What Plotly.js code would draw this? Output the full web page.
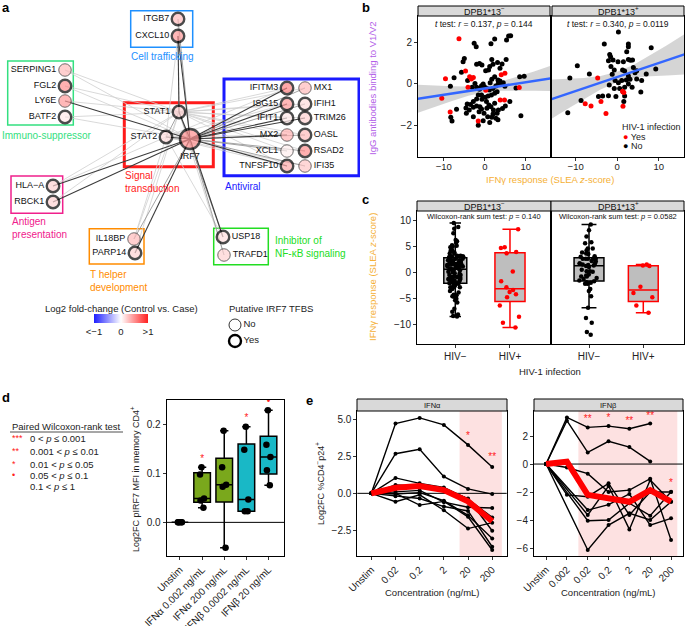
<!DOCTYPE html>
<html>
<head>
<meta charset="utf-8">
<script src="https://cdn.plot.ly/plotly-3.0.1.min.js"></script>
<style>body{margin:0;background:#fff}#fig{width:685px;height:626px}</style>
</head>
<body>
<div id="fig"></div>
<script>
// ---------- panel a : IRF7 network ----------
var netNames = ['ITGB7','CXCL10','SERPING1','FGL2','LY6E','BATF2','STAT1','STAT2','IRF7',
  'IFITM3','ISG15','IFIT1','MX2','XCL1','TNFSF10','MX1','IFIH1','TRIM26','OASL','RSAD2','IFI35',
  'HLA−A','RBCK1','IL18BP','PARP14','USP18','TRAFD1'];
var netX = [178,178,65,65,65,65,179,166,190, 287,287,287,287,287,287,305,305,305,305,305,305, 53,53,134,135,223,224];
var netY = [19,36,70,86,101,117,112,137,139, 88,104,118,135,151,166,88,104,118,135,151,166, 186,202,239,253,237,255];
var netLFC = [0.3,0.45,0.3,0.5,0.45,0.1,0.2,0.15,0.5, 0.55,0.45,0.1,0.35,0.07,0.38,0.3,0.15,0.2,0.3,0.5,0.25, 0.2,0.2,0.3,0.2,0.15,0.2];
var netTFBS = [1,1,0,1,0,1,1,1,1, 1,1,1,0,0,1,0,1,1,1,1,0, 1,1,0,1,1,0];
var netLabelPos = ['middle left','middle left','middle left','middle left','middle left','middle left','middle left','middle left','bottom center',
  'middle left','middle left','middle left','middle left','middle left','middle left','middle right','middle right','middle right','middle right','middle right','middle right',
  'middle left','middle left','middle left','middle left','middle right','middle right'];
// [gene, hub, strength 0 light / 1 mid / 2 dark]
var netEdges = [
  ['ITGB7','IRF7',1],['ITGB7','STAT1',0],
  ['CXCL10','IRF7',2],['CXCL10','STAT1',2],['CXCL10','STAT2',0],
  ['SERPING1','STAT1',0],['SERPING1','IRF7',0],
  ['FGL2','STAT1',0],['FGL2','IRF7',0],
  ['LY6E','IRF7',2],['LY6E','STAT1',0],
  ['BATF2','STAT1',0],['BATF2','IRF7',0],
  ['HLA−A','STAT1',0],['HLA−A','STAT2',0],['HLA−A','IRF7',2],
  ['RBCK1','IRF7',2],['RBCK1','STAT1',0],
  ['IL18BP','STAT1',0],['IL18BP','STAT2',0],['IL18BP','IRF7',1],
  ['PARP14','IRF7',2],['PARP14','STAT1',0],
  ['USP18','IRF7',2],['USP18','STAT1',1],['USP18','STAT2',0],
  ['TRAFD1','IRF7',1],['TRAFD1','STAT1',0],
  ['IFITM3','IRF7',2],['IFITM3','STAT1',0],['IFITM3','STAT2',0],
  ['ISG15','IRF7',2],['ISG15','STAT1',0],['ISG15','STAT2',0],
  ['IFIT1','IRF7',2],['IFIT1','STAT1',0],
  ['MX2','IRF7',2],['MX2','STAT1',0],['MX2','STAT2',0],
  ['XCL1','IRF7',1],['XCL1','STAT1',0],
  ['TNFSF10','IRF7',2],['TNFSF10','STAT1',0],['TNFSF10','STAT2',0],
  ['MX1','IRF7',1],['MX1','STAT1',0],
  ['IFIH1','IRF7',1],['IFIH1','STAT1',0],
  ['TRIM26','IRF7',2],['TRIM26','STAT1',0],
  ['OASL','IRF7',1],['OASL','STAT1',0],
  ['RSAD2','IRF7',1],['RSAD2','STAT1',0],
  ['IFI35','IRF7',1],['IFI35','STAT2',0],
  ['STAT1','IRF7',2],['STAT2','IRF7',2],['STAT1','STAT2',1]
];
var tfbsLegend = ['No','Yes'];

// ---------- panel b : IgG V1/V2 vs IFNg response ----------
var bLeftNoX = [5.8,6.3,5.3,2.4,1.5,-2.6,-2.1,-5.0,-5.3,-2.0,-1.3,-0.7,1.7,2.0,3.1,5.2,4.2,3.7,1.2,0.9,0.2,-5.7,-7.5,-8.4,-4.2,-2.4,-1.5,-0.8,-0.4,1.3,1.7,2.4,3.2,3.7,3.9,2.7,2.0,1.1,0.5,-0.1,-1.0,-1.3,-2.0,-3.1,3.3,4.5,4.9,3.0,2.4,1.6,0.8,0.1,-0.7,-2.0,-2.8,-3.5,-4.3,-4.6,-3.8,-2.8,-2.0,-1.2,-0.8,-1.4,-0.2,0.5,1.0,1.5,2.1,2.0,1.7,0.7,3.3,3.0,2.7,3.2,4.3,1.2,-0.4,-1.6,-2.8,-4.5,-6.9,-8.3,-8.0,7.6,9.6,8.8,5.0,6.1,2.4,0.4,-0.8,-1.6,8.5];
var bLeftNoY = [2.29,2.30,2.10,2.14,1.92,1.94,1.78,1.21,1.06,0.94,0.98,0.90,1.17,0.94,1.02,1.17,0.95,0.75,0.83,0.67,0.63,0.56,0.30,-0.11,0.17,0.02,-0.22,-0.08,0.0,0.06,0.22,0.35,0.19,0.14,0.02,-0.10,-0.21,-0.29,-0.22,-0.13,-0.19,-0.25,-0.16,-0.16,0.02,0.06,-0.11,-0.37,-0.44,-0.52,-0.57,-0.63,-0.73,-0.71,-0.84,-0.98,-0.95,-1.14,-1.24,-1.11,-1.05,-1.08,-1.19,-1.32,-1.40,-1.16,-1.0,-1.08,-1.24,-1.43,-1.59,-1.56,-1.24,-1.40,-1.63,-1.71,-1.17,-1.84,-1.75,-1.97,-1.56,-1.40,-1.21,-1.59,-1.76,-0.19,0.37,-1.52,-1.05,-0.84,-0.92,-0.84,-0.52,-0.52,0.35];
var bLeftYesX = [-6.3,-9.6,-10.5,-8.45,-1.6,-4.7,-3.7,-3.3,-2.8,-4.1,0.24,4.0,4.9,3.75,4.8,8.4];
var bLeftYesY = [2.16,0.25,-0.68,-1.33,-1.76,0.62,0.35,0.24,0.31,-0.16,-0.30,0.44,0.51,-0.76,-0.76,-0.17];
var bRightNoX = [0.3,-3.1,2.7,2.7,2.3,8.2,-1.8,-1.6,-1.0,-2.1,2.7,3.2,3.7,1.5,0.2,1.3,3.9,4.7,-1.5,-0.7,-9.6,-6.7,-11.4,-1.2,1.8,2.7,4.3,7.0,9.3,5.9,-0.5,1.1,2.2,0.3,-1.9,-0.7,2.7,1.8,1.4,3.6,4.7,5.7,1.8,-0.3,1.6,-2.1,-4.5,-8.7,-11.9,-3.5,3.1,0.6];
var bRightNoY = [2.48,1.90,1.90,1.78,1.54,1.73,1.41,1.30,1.14,1.11,1.17,1.13,1.14,1.06,1.06,0.67,0.79,0.63,0.83,0.67,0.87,0.48,0.29,0.46,0.62,0.38,0.54,0.48,0.71,0.16,0.16,0.16,0.19,0.06,-0.05,-0.21,0.0,-0.16,-0.37,-0.16,0.24,-0.38,-0.57,-0.60,-0.84,-0.56,-0.60,-0.79,-1.37,-0.57,0.22,-0.21];
var bRightYesX = [-4.7,-7.7,-6.3,-3.9,-2.7,1.4,1.3,1.6];
var bRightYesY = [0.29,-0.94,-1.05,-0.84,-1.41,-1.06,-0.35,-0.41];
// linear fits and 95% band half-widths
var fitX = [-16.5,-12,-8,-4,0,4,8,12,16.5];
var fitLeft = [-0.71,-0.58,-0.46,-0.34,-0.22,-0.10,0.02,0.14,0.28];
var halfLeft = [0.68,0.5,0.35,0.22,0.17,0.22,0.33,0.46,0.62];
var fitRight = [-0.77,-0.47,-0.21,0.06,0.33,0.60,0.87,1.13,1.43];
var halfRight = [0.98,0.72,0.5,0.32,0.25,0.32,0.5,0.72,0.98];

// ---------- panel d : pIRF7 ----------
var dCats = ['Unstim','IFNα 0.002 ng/mL','IFNα 200 ng/mL','IFNβ 0.0002 ng/mL','IFNβ 20 ng/mL'];
var dUnstim = [0,0,0,0,0];
var dA002 = [0.030,0.045,0.049,0.098,0.113];
var dA200 = [-0.052,0.073,0.077,0.113,0.188];
var dB00002 = [0.023,0.023,0.047,0.149,0.196];
var dB20 = [0.076,0.107,0.134,0.159,0.230];
var dSig = ['','*','','*','•'];
var dSigY = [null,0.128,null,0.214,0.247];

// ---------- panel e : p24 ----------
var eCatsA = ['Unstim','0.02','0.2','2','20','200'];
var eCatsB = ['Unstim','0.002','0.02','0.2','2','20','200'];
var eLinesA = [
  [0,4.75,5.14,4.66,3.30,1.80],
  [0,2.70,3.00,1.14,0.30,-0.05],
  [0,1.05,0.68,0.40,-0.40,-1.64],
  [0,0.57,0.50,0.30,-0.35,-2.55],
  [0,0.10,0.20,-0.60,-0.95,-1.00],
  [0,-0.05,0.05,-0.50,-1.50,-3.07],
  [0,-0.20,-0.35,-0.90,-1.20,-3.64],
  [0,-0.57,-0.10,-1.15,-2.40,-2.00],
  [0,0.00,-0.80,-0.55,-1.60,-3.86]
];
var eMeanA = [0,0.38,0.50,0.22,-0.55,-1.90];
var eLinesB = [
  [0,3.33,2.62,2.71,2.52,2.90,null],
  [0,3.10,0.83,1.62,1.21,0.19,null],
  [0,-0.25,-0.69,-2.00,-1.86,-1.05,-5.43],
  [0,-2.20,-2.33,-1.38,-3.64,-2.00,-2.00],
  [0,null,-3.29,-2.90,-2.14,-4.36,-3.88],
  [0,null,-3.64,-1.57,-4.67,-1.14,-2.69],
  [0,null,-4.05,-4.00,-2.80,-3.69,-1.98],
  [0,null,-6.14,-4.36,-3.52,-4.00,-2.69]
];
var eMeanB = [0,0.17,-2.20,-2.50,-2.70,-1.86,-2.69];
var eSigAx = [4,5], eSigAy = [3.9,2.45], eSigAt = ['*','**'];
var eSigBx = [2,3,4,5,6], eSigBy = [3.2,3.25,3.05,3.4,-1.4], eSigBt = ['**','*','**','**','*'];
var eShadeA = [3.65,5.4], eShadeB = [1.55,6.3];

// ================= drawing =================
var F = 'Liberation Sans, Arial, sans-serif';
function px(x){ return x/685; }
function py(y){ return 1 - y/626; }

function ax(dom, range, anchor, extra){
  return Object.assign({domain:dom, range:range, anchor:anchor, showline:true, mirror:true,
    linecolor:'#000', linewidth:1, ticks:'outside', ticklen:3, tickcolor:'#333',
    tickfont:{family:F, size:10, color:'#222'}, showgrid:false, zeroline:false, fixedrange:true}, extra || {});
}

var traces = [];

// network edges
var edgeCol = ['#cfcfcf','#9a9a9a','#3c3c3c'];
var edgeW = [0.8,0.9,1.1];
[0,1,2].forEach(function(k){
  var ex = [], ey = [];
  netEdges.forEach(function(e){
    if (e[2] !== k) return;
    var a = netNames.indexOf(e[0]), b = netNames.indexOf(e[1]);
    ex.push(netX[a], netX[b], null);
    ey.push(netY[a], netY[b], null);
  });
  traces.push({type:'scatter', mode:'lines', x:ex, y:ey, xaxis:'x8', yaxis:'y8',
    line:{color:edgeCol[k], width:edgeW[k]}, hoverinfo:'skip'});
});

// network nodes
traces.push({type:'scatter', mode:'markers+text', x:netX, y:netY, xaxis:'x8', yaxis:'y8',
  text:netNames, textposition:netLabelPos, textfont:{family:F, size:9, color:'#111'},
  marker:{size:netNames.map(function(n){ return n === 'IRF7' ? 20 : 12.5; }),
    color:netLFC, cmin:-1, cmax:1,
    colorscale:[[0,'#1f1fff'],[0.5,'#ffffff'],[1,'#ff2020']],
    line:{color:'#000', width:netTFBS.map(function(t){ return t ? 2.4 : 0.8; })},
    showscale:true,
    colorbar:{orientation:'h', x:px(121), xanchor:'center', y:py(323.5), yanchor:'middle',
      len:54, lenmode:'pixels', thickness:9, thicknessmode:'pixels', xpad:0, ypad:0,
      outlinewidth:0, tickvals:[-1,0,1], ticktext:['<−1','0','>1'], ticks:'',
      tickfont:{family:F, size:9.5, color:'#222'}}},
  cliponaxis:false, hoverinfo:'skip'});

// TFBS legend keys
traces.push({type:'scatter', mode:'markers+text', x:[235,235], y:[325,341], xaxis:'x8', yaxis:'y8',
  text:tfbsLegend, textposition:'middle right', textfont:{family:F, size:9.5, color:'#222'},
  marker:{size:12, color:'#fff', line:{color:'#000', width:[0.8,2.4]}}, cliponaxis:false, hoverinfo:'skip'});

// panel b
function bandTrace(fit, half, xa, ya){
  var up = fit.map(function(v,i){ return v + half[i]; });
  var lo = fit.map(function(v,i){ return v - half[i]; });
  return {type:'scatter', mode:'lines', x:fitX.concat(fitX.slice().reverse()),
    y:up.concat(lo.reverse()), fill:'toself', fillcolor:'rgba(185,185,185,0.6)',
    line:{width:0}, xaxis:xa, yaxis:ya, hoverinfo:'skip'};
}
traces.push(bandTrace(fitLeft, halfLeft, 'x', 'y'));
traces.push(bandTrace(fitRight, halfRight, 'x2', 'y2'));
function pts(x, y, col, xa, ya){
  return {type:'scatter', mode:'markers', x:x, y:y, xaxis:xa, yaxis:ya,
    marker:{size:5, color:col}, hoverinfo:'skip'};
}
traces.push(pts(bLeftNoX, bLeftNoY, '#000', 'x', 'y'));
traces.push(pts(bLeftYesX, bLeftYesY, '#ff0000', 'x', 'y'));
traces.push(pts(bRightNoX, bRightNoY, '#000', 'x2', 'y2'));
traces.push(pts(bRightYesX, bRightYesY, '#ff0000', 'x2', 'y2'));
traces.push({type:'scatter', mode:'lines', x:fitX, y:fitLeft, xaxis:'x', yaxis:'y', line:{color:'#3366ff', width:2.5}});
traces.push({type:'scatter', mode:'lines', x:fitX, y:fitRight, xaxis:'x2', yaxis:'y2', line:{color:'#3366ff', width:2.5}});

// panel c: same IFNg scores, split by HIV status
function boxC(vals, pos, col, w, xa, ya){
  return {type:'box', y:vals, x0:pos, width:w, xaxis:xa, yaxis:ya,
    fillcolor:'#bebebe', line:{color:col, width:1.5},
    boxpoints:'all', jitter:0.8, pointpos:0, marker:{color:col, size:4.5}, hoverinfo:'skip'};
}
traces.push(boxC(bLeftNoX, 1, '#000', 0.42, 'x3', 'y3'));
traces.push(boxC(bLeftYesX, 2, '#ff0000', 0.55, 'x3', 'y3'));
traces.push(boxC(bRightNoX, 1, '#000', 0.55, 'x4', 'y4'));
traces.push(boxC(bRightYesX, 2, '#ff0000', 0.55, 'x4', 'y4'));

// panel d
var dVals = [dUnstim, dA002, dA200, dB00002, dB20];
var dFill = ['#ffffff','#7aa81c','#7aa81c','#19b8c6','#19b8c6'];
dVals.forEach(function(v,i){
  traces.push({type:'box', y:v, x0:i, width:0.75, xaxis:'x5', yaxis:'y5',
    fillcolor:dFill[i], line:{color:'#000', width:1.5},
    boxpoints:'all', jitter:i === 0 ? 1.2 : 0.3, pointpos:0, marker:{color:'#000', size:6.5}, hoverinfo:'skip'});
});
traces.push({type:'scatter', mode:'text', x:[0,1,2,3,4], y:dSigY, text:dSig, xaxis:'x5', yaxis:'y5',
  textfont:{family:F, size:10, color:'#ff2020'}, hoverinfo:'skip'});

// panel e
function eLines(lines, mean, xa, ya){
  lines.forEach(function(l){
    traces.push({type:'scatter', mode:'lines+markers', x:l.map(function(v,i){ return i; }), y:l,
      connectgaps:true, xaxis:xa, yaxis:ya, line:{color:'#000', width:1.4},
      marker:{color:'#000', size:4}, hoverinfo:'skip'});
  });
  traces.push({type:'scatter', mode:'lines', x:mean.map(function(v,i){ return i; }), y:mean,
    xaxis:xa, yaxis:ya, line:{color:'#ff0000', width:6}, hoverinfo:'skip'});
}
eLines(eLinesA, eMeanA, 'x6', 'y6');
eLines(eLinesB, eMeanB, 'x7', 'y7');
traces.push({type:'scatter', mode:'text', x:eSigAx, y:eSigAy, text:eSigAt, xaxis:'x6', yaxis:'y6',
  textfont:{family:F, size:10, color:'#ff2020'}, hoverinfo:'skip'});
traces.push({type:'scatter', mode:'text', x:eSigBx, y:eSigBy, text:eSigBt, xaxis:'x7', yaxis:'y7',
  textfont:{family:F, size:10, color:'#ff2020'}, hoverinfo:'skip'});

// ---------- annotations ----------
var anns = [];
function ann(text, x, y, o){
  anns.push(Object.assign({text:text, x:px(x), y:py(y), xref:'paper', yref:'paper', showarrow:false,
    xanchor:'center', yanchor:'middle', font:{family:F, size:9.5, color:'#222'}}, o || {}));
}
function nann(text, x, y, col, o){
  anns.push(Object.assign({text:text, x:x, y:y, xref:'x8', yref:'y8', showarrow:false,
    xanchor:'left', yanchor:'middle', align:'left', font:{family:F, size:10, color:col}}, o || {}));
}
// panel letters
[['a',6,8],['b',366,8],['c',366,200],['d',6,397],['e',309,400]].forEach(function(p){
  ann('<b>' + p[0] + '</b>', p[1], p[2], {font:{family:F, size:13, color:'#000'}});
});

// network group labels
nann('Cell trafficking', 162, 56, '#1e90ff', {xanchor:'center'});
nann('Immuno-suppressor', 0, 135, '#33e080');
nann('Signal<br>transduction', 123, 182, '#ff1a1a');
nann('Antiviral', 223, 186, '#1a1aff');
nann('Antigen<br>presentation', 10, 228, '#f0208c');
nann('T helper<br>development', 88, 281, '#ff8c00');
nann('Inhibitor of<br>NF-κB signaling', 273, 247, '#22dd22');
ann('Log2 fold-change (Control vs. Case)', 121, 309);
ann('Putative IRF7 TFBS', 271, 309);

// panel b text
ann('DPB1*13<sup>−</sup>', 484, 11, {font:{family:F, size:9, color:'#111'}});
ann('DPB1*13<sup>+</sup>', 618, 11, {font:{family:F, size:9, color:'#111'}});
ann('<i>t</i> test: <i>r</i> = 0.137, <i>p</i> = 0.144', 484, 24, {font:{family:F, size:8.5, color:'#111'}});
ann('<i>t</i> test: <i>r</i> = 0.340, <i>p</i> = 0.0119', 618, 24, {font:{family:F, size:8.5, color:'#111'}});
ann('HIV-1 infection', 620, 127, {xanchor:'left', font:{family:F, size:9, color:'#222'}});
ann('<span style="color:#ff0000">●</span> Yes', 621, 137, {xanchor:'left', font:{family:F, size:9, color:'#222'}});
ann('<span style="color:#000">●</span> No', 621, 146, {xanchor:'left', font:{family:F, size:9, color:'#222'}});
ann('IgG antibodies binding to V1/V2', 372, 88, {textangle:-90, font:{family:F, size:9.5, color:'#b25ee8'}});
ann('IFNγ response (SLEA <i>z</i>-score)', 550, 180, {font:{family:F, size:9.5, color:'#f5b036'}});

// panel c text
ann('DPB1*13<sup>−</sup>', 484, 205.5, {font:{family:F, size:9, color:'#111'}});
ann('DPB1*13<sup>+</sup>', 618, 205.5, {font:{family:F, size:9, color:'#111'}});
ann('Wilcoxon-rank sum test: <i>p</i> = 0.140', 484, 216, {font:{family:F, size:7.5, color:'#111'}});
ann('Wilcoxon-rank sum test: <i>p</i> = 0.0582', 618, 216, {font:{family:F, size:7.5, color:'#111'}});
ann('IFNγ response (SLEA <i>z</i>-score)', 373, 277, {textangle:-90, font:{family:F, size:9.5, color:'#f5b036'}});
ann('HIV-1 infection', 550, 372, {font:{family:F, size:9.5, color:'#222'}});

// panel d text
ann('Paired Wilcoxon-rank test', 10, 426, {xanchor:'left'});
var sigStars = ['***','**','*','•',''];
var sigText = ['0 < <i>p</i> ≤ 0.001','0.001 < <i>p</i> ≤ 0.01','0.01 < <i>p</i> ≤ 0.05','0.05 < <i>p</i> ≤ 0.1','0.1 < <i>p</i> ≤ 1'];
var sigRowY = [438,451,464,475,486];
sigStars.forEach(function(s,i){
  if (s) ann(s, 10, sigRowY[i], {xanchor:'left', font:{family:F, size:9, color:'#ff2020'}});
  ann(sigText[i], 28, sigRowY[i], {xanchor:'left'});
});
ann('Log2FC pIRF7 MFI in memory CD4<sup>+</sup>', 135, 479, {textangle:-90, font:{family:F, size:9, color:'#222'}});

// panel e text
ann('IFNα', 432, 405, {font:{family:F, size:7.5, color:'#111'}});
ann('IFNβ', 608, 405, {font:{family:F, size:7.5, color:'#111'}});
ann('Log2FC %CD4<sup>−</sup>p24<sup>+</sup>', 320, 484, {textangle:-90, font:{family:F, size:9, color:'#222'}});
ann('Concentration (ng/mL)', 432, 592, {font:{family:F, size:9.5, color:'#222'}});
ann('Concentration (ng/mL)', 608, 592, {font:{family:F, size:9.5, color:'#222'}});

// ---------- shapes ----------
var shapes = [];
function strip(x0, x1, y0, y1){
  shapes.push({type:'rect', xref:'paper', yref:'paper', x0:px(x0), x1:px(x1), y0:py(y1), y1:py(y0),
    fillcolor:'#d9d9d9', line:{color:'#000', width:1}});
}
strip(418,550,6,16); strip(552,684,6,16);
strip(417,551,201,211); strip(551,684,201,211);
strip(357,507,399,411); strip(534,683,399,411);
// network group boxes
function gbox(x0, x1, y0, y1, col, w){
  shapes.push({type:'rect', xref:'x8', yref:'y8', x0:x0, x1:x1, y0:y0, y1:y1,
    line:{color:col, width:w}, fillcolor:'rgba(0,0,0,0)', layer:'below'});
}
gbox(130.7,192.7,10.7,47.3,'#1e90ff',1.5);
gbox(7.7,73.3,61,125,'#33e080',1.5);
gbox(124.3,213.3,102.7,166.7,'#ff1a1a',3);
gbox(224,359,79,175.7,'#1a1aff',3);
gbox(11,62.7,176,213.3,'#f0208c',1.5);
gbox(89.3,144,228.7,264,'#ff8c00',1.5);
gbox(213.7,268.3,228.3,264.7,'#22dd22',1.5);
// underline for legend title
shapes.push({type:'line', xref:'paper', yref:'paper', x0:px(10), x1:px(123), y0:py(432), y1:py(432), line:{color:'#222', width:0.8}});
// zero lines and shaded windows
shapes.push({type:'line', xref:'x5 domain', yref:'y5', x0:0, x1:1, y0:0, y1:0, line:{color:'#000', width:1}, layer:'below'});
shapes.push({type:'rect', xref:'x6', yref:'y6 domain', x0:eShadeA[0], x1:eShadeA[1], y0:0, y1:1, fillcolor:'#fde1e1', line:{width:0}, layer:'below'});
shapes.push({type:'rect', xref:'x7', yref:'y7 domain', x0:eShadeB[0], x1:eShadeB[1], y0:0, y1:1, fillcolor:'#fde1e1', line:{width:0}, layer:'below'});
shapes.push({type:'line', xref:'x6 domain', yref:'y6', x0:0, x1:1, y0:0, y1:0, line:{color:'#000', width:1}, layer:'below'});
shapes.push({type:'line', xref:'x7 domain', yref:'y7', x0:0, x1:1, y0:0, y1:0, line:{color:'#000', width:1}, layer:'below'});

var noY = {showticklabels:false, ticks:''};
var bX = {tickvals:[-10,0,10], ticklabelstandoff:-2, tickfont:{family:F, size:9.5, color:'#222'}};
var layout = {
  width:685, height:626, margin:{l:0, r:0, t:0, b:0}, paper_bgcolor:'#fff', plot_bgcolor:'rgba(0,0,0,0)',
  showlegend:false, font:{family:F, color:'#222'}, boxmode:'overlay',
  xaxis: ax([px(418),px(550)], [-16.3,15.9], 'y', bX),
  yaxis: ax([py(157),py(16)], [-3.48,3.24], 'x', {tickvals:[-2,0,2]}),
  xaxis2: ax([px(552),px(684)], [-15.7,16.1], 'y2', bX),
  yaxis2: ax([py(157),py(16)], [-3.48,3.24], 'x2', noY),
  xaxis3: ax([px(417),px(551)], [0.3,2.75], 'y3', {tickvals:[1,2], ticktext:['HIV−','HIV+']}),
  yaxis3: ax([py(344),py(211)], [-13.7,11.9], 'x3', {tickvals:[-10,-5,0,5,10]}),
  xaxis4: ax([px(551),px(684)], [0.3,2.75], 'y4', {tickvals:[1,2], ticktext:['HIV−','HIV+']}),
  yaxis4: ax([py(344),py(211)], [-13.7,11.9], 'x4', noY),
  xaxis5: ax([px(166.7),px(284)], [-0.6,4.7], 'y5', {tickvals:[0,1,2,3,4], ticktext:dCats, tickangle:-45}),
  yaxis5: ax([py(556),py(400)], [-0.069,0.251], 'x5', {tickvals:[0,0.1,0.2], ticktext:['0.0','0.1','0.2']}),
  xaxis6: ax([px(357.3),px(506.7)], [-0.58,5.6], 'y6', {tickvals:[0,1,2,3,4,5], ticktext:eCatsA, tickangle:-45}),
  yaxis6: ax([py(556),py(411)], [-4.27,5.61], 'x6', {tickvals:[-2.5,0,2.5,5], ticktext:['−2.5','0.0','2.5','5.0']}),
  xaxis7: ax([px(534),px(682.7)], [-0.58,6.56], 'y7', {tickvals:[0,1,2,3,4,5,6], ticktext:eCatsB, tickangle:-45}),
  yaxis7: ax([py(556),py(411)], [-6.57,3.79], 'x7', {tickvals:[-6,-4,-2,0,2]}),
  xaxis8: {domain:[0,px(360)], range:[0,360], anchor:'y8', visible:false, fixedrange:true},
  yaxis8: {domain:[py(350),1], range:[350,0], anchor:'x8', visible:false, fixedrange:true},
  annotations: anns,
  shapes: shapes
};

Plotly.newPlot('fig', traces, layout, {displayModeBar:false, staticPlot:true});
</script>
</body>
</html>
